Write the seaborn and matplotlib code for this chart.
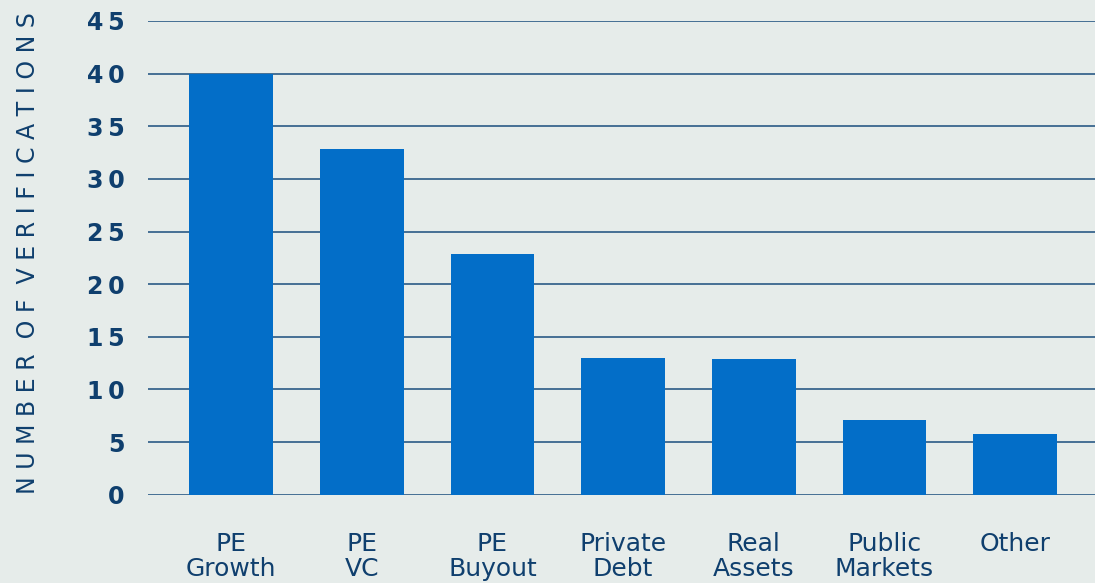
import matplotlib
matplotlib.use("Agg")
import matplotlib.pyplot as plt
import seaborn as sns
import pandas as pd
from matplotlib.ticker import FuncFormatter

# Verifications by asset class
categories = ["PE\nGrowth", "PE\nVC", "PE\nBuyout", "Private\nDebt",
              "Real\nAssets", "Public\nMarkets", "Other"]
verifications = [40, 32.8, 22.9, 13, 12.9, 7.1, 5.8]
y_ticks = [0, 5, 10, 15, 20, 25, 30, 35, 40, 45]
y_title = "NUMBER OF VERIFICATIONS"

BG = "#e6ecea"
BAR = "#036ec8"
NAVY = "#0f3f6e"
GRID = "#2a5a86"

sns.set_theme(style="white")
plt.rcParams["font.family"] = ["DejaVu Sans"]

df = pd.DataFrame({"category": categories, "count": verifications})

fig = plt.figure(figsize=(10.95, 5.83), dpi=100, facecolor=BG)
ax = fig.add_axes([148 / 1095, (583 - 494.7) / 583, 1 - 148 / 1095, (494.7 - 21) / 583])
ax.set_facecolor(BG)

sns.barplot(data=df, x="category", y="count", color=BAR, saturation=1,
            width=0.64, linewidth=0, edgecolor="none", ax=ax, zorder=3)

ax.set_ylim(0, 45)
ax.set_xlim(-0.635, 6.61)
ax.set_yticks(y_ticks)
ax.yaxis.set_major_formatter(FuncFormatter(lambda v, _: "\u2009".join(str(int(v)))))
ax.yaxis.grid(True, color=GRID, linewidth=1.2, zorder=1)
ax.set_axisbelow(True)

for s in ax.spines.values():
    s.set_visible(False)

ax.tick_params(axis="y", length=0, pad=17, labelsize=17, labelcolor=NAVY)
for lbl in ax.get_yticklabels():
    lbl.set_fontweight("bold")
ax.tick_params(axis="x", length=0, pad=27, labelsize=18, labelcolor=NAVY)
for lbl in ax.get_xticklabels():
    lbl.set_linespacing(1.02)

ax.set_xlabel("")
ax.set_ylabel("")

# Letter-spaced vertical axis title
spaced_title = "  ".join(" ".join(word) for word in y_title.split(" "))
fig.text(28.5 / 1095, (583 - 253) / 583, spaced_title,
         rotation=90, ha="center", va="center", fontsize=17, color=NAVY)

fig.savefig("out.png", dpi=100, facecolor=BG)
